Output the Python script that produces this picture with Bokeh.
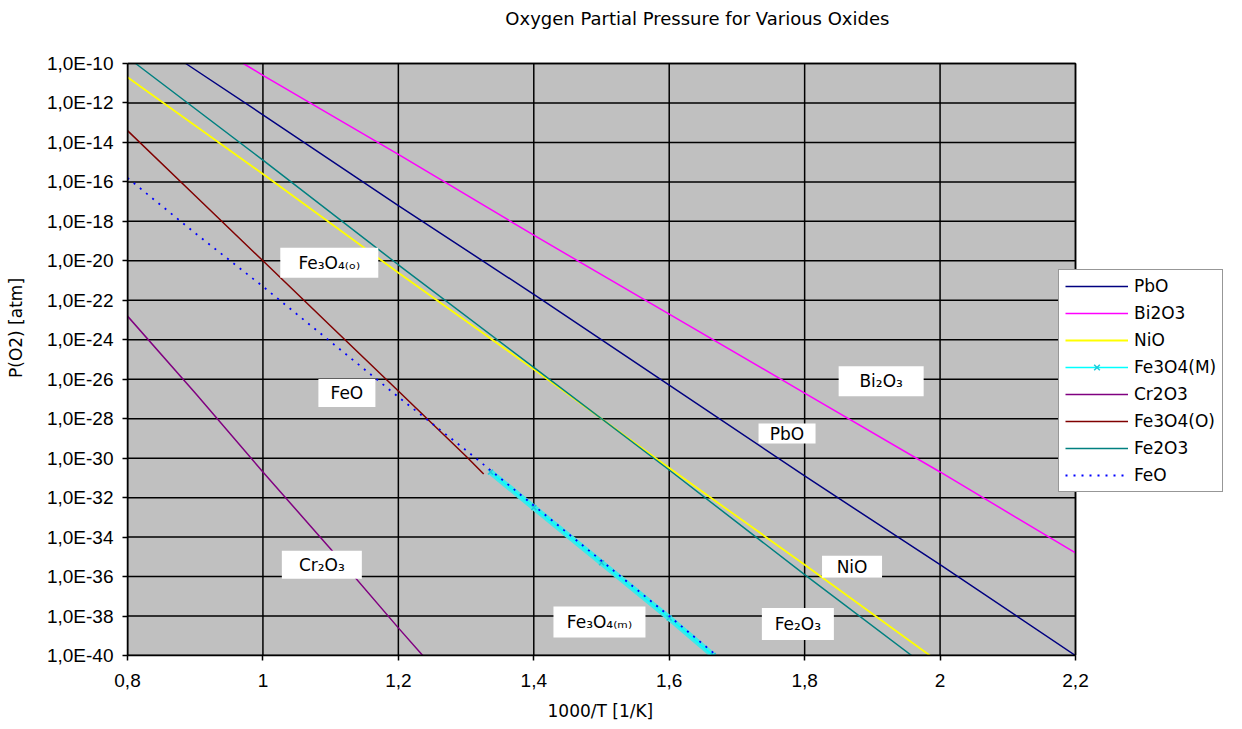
from bokeh.plotting import figure
from bokeh.models import (ColumnDataSource, CustomJSTickFormatter, FixedTicker,
                          Label, Legend, LegendItem, Title)
from bokeh.core.properties import value
from bokeh.embed import file_html
from bokeh.resources import INLINE

# ---------------------------------------------------------------- texts
TITLE = "Oxygen Partial Pressure for Various Oxides"
X_TITLE = "1000/T [1/K]"
Y_TITLE = "P(O2) [atm]"

x_ticks = [0.8, 1.0, 1.2, 1.4, 1.6, 1.8, 2.0, 2.2]
x_tick_labels = ["0,8", "1", "1,2", "1,4", "1,6", "1,8", "2", "2,2"]

# y is plotted as log10(P(O2) / atm)
y_ticks = [-40, -38, -36, -34, -32, -30, -28, -26, -24, -22, -20, -18, -16, -14, -12, -10]
y_tick_labels = ["1,0E-40", "1,0E-38", "1,0E-36", "1,0E-34", "1,0E-32", "1,0E-30",
                 "1,0E-28", "1,0E-26", "1,0E-24", "1,0E-22", "1,0E-20", "1,0E-18",
                 "1,0E-16", "1,0E-14", "1,0E-12", "1,0E-10"]

# ---------------------------------------------------------------- series
# x: 1000/T [1/K], y: log10 P(O2) [atm]
pbo_x = [0.886, 1.0, 1.2, 1.4, 1.6, 1.8, 2.0, 2.2]
pbo_log = [-10.0, -12.6, -17.2, -21.7, -26.3, -30.9, -35.4, -40.0]

bi2o3_x = [0.971, 1.0, 1.2, 1.4, 1.6, 1.8, 2.0, 2.2]
bi2o3_log = [-10.0, -10.6, -14.6, -18.7, -22.7, -26.7, -30.7, -34.8]

nio_x = [0.8, 1.0, 1.2, 1.4, 1.6, 1.8, 1.985]
nio_log = [-10.7, -15.6, -20.6, -25.5, -30.5, -35.4, -40.0]

fe3o4m_x = [1.336, 1.4, 1.5, 1.6, 1.665]
fe3o4m_log = [-30.7, -32.5, -35.3, -38.1, -40.0]

cr2o3_x = [0.8, 0.9, 1.0, 1.1, 1.2, 1.236]
cr2o3_log = [-22.8, -26.7, -30.7, -34.6, -38.6, -40.0]

fe3o4o_x = [0.8, 0.9, 1.0, 1.1, 1.2, 1.3, 1.326]
fe3o4o_log = [-13.4, -16.7, -20.0, -23.3, -26.6, -29.9, -30.8]

fe2o3_x = [0.812, 1.0, 1.2, 1.4, 1.6, 1.8, 1.958]
fe2o3_log = [-10.0, -14.9, -20.2, -25.4, -30.6, -35.9, -40.0]

feo_x = [0.8, 0.9, 1.0, 1.1, 1.2, 1.3, 1.4, 1.5, 1.6, 1.67]
feo_log = [-15.8, -18.6, -21.3, -24.1, -26.9, -29.6, -32.4, -35.2, -38.0, -40.0]

# ---------------------------------------------------------------- in-plot tags
tag_text = ["Fe₃O₄₍ₒ₎", "FeO", "Cr₂O₃", "Fe₃O₄₍ₘ₎", "Fe₂O₃", "NiO", "PbO", "Bi₂O₃"]
tag_x = [1.098, 1.124, 1.087, 1.497, 1.790, 1.870, 1.774, 1.913]
tag_y = [-20.1, -26.7, -35.4, -38.3, -38.4, -35.5, -28.75, -26.1]
tag_w = [98, 57, 80, 92, 72, 60, 57, 85]
tag_h = [30, 28, 28, 31, 32, 22, 20, 30]

# ---------------------------------------------------------------- page geometry
W, H = 1242, 729
LEFT, BOTTOM = 127, 74            # room for the axes
PLOT_W, PLOT_H = 948, 592         # size of the grey plotting area in px
x0, x1 = x_ticks[0], x_ticks[-1]
y0, y1 = y_ticks[0], y_ticks[-1]
# the frame runs to the canvas top/right edge so that the title and the
# legend (which sits partly over the plotting area) can live inside it
x_end = x0 + (x1 - x0) * (W - LEFT) / PLOT_W
y_top = y0 + (y1 - y0) * (H - BOTTOM) / PLOT_H

p = figure(width=W, height=H, x_range=(x0, x_end), y_range=(y0, y_top),
           output_backend="svg", toolbar_location=None,
           min_border_left=LEFT, min_border_right=0,
           min_border_top=0, min_border_bottom=BOTTOM)

p.background_fill_color = "white"
p.border_fill_color = "white"
p.outline_line_color = None
p.xgrid.visible = False
p.ygrid.visible = False

# grey plotting area
p.quad(left=[x0], right=[x1], bottom=[y0], top=[y1], fill_color="#C0C0C0",
       line_color=None)

# black grid, limited to the plotting area
p.segment(x0=x_ticks, y0=[y0] * len(x_ticks), x1=x_ticks, y1=[y1] * len(x_ticks),
          line_color="black", line_width=1.5)
p.segment(x0=[x0] * len(y_ticks), y0=y_ticks, x1=[x1] * len(y_ticks), y1=y_ticks,
          line_color="black", line_width=1.5)

tick_font = "Liberation Sans"

p.xaxis.ticker = FixedTicker(ticks=x_ticks)
p.yaxis.ticker = FixedTicker(ticks=y_ticks)
p.xaxis.bounds = (x0, x1)
p.yaxis.bounds = (y0, y1)
lookup = """
let best = 0;
for (let i = 0; i < tick_values.length; i++) {
  if (Math.abs(tick_values[i] - tick) < Math.abs(tick_values[best] - tick)) best = i;
}
return tick_labels[best];
"""
p.xaxis.formatter = CustomJSTickFormatter(
    args=dict(tick_values=x_ticks, tick_labels=x_tick_labels), code=lookup)
p.yaxis.formatter = CustomJSTickFormatter(
    args=dict(tick_values=y_ticks, tick_labels=y_tick_labels), code=lookup)

for ax in (p.xaxis, p.yaxis):
    ax.axis_line_color = "black"
    ax.axis_line_width = 1.5
    ax.major_tick_line_color = "black"
    ax.major_tick_line_width = 1.5
    ax.major_tick_out = 5
    ax.major_tick_in = 0
    ax.minor_tick_line_color = None
    ax.major_label_text_font = tick_font
    ax.major_label_text_font_size = "19px"
    ax.major_label_text_color = "black"
    ax.axis_label_text_font = "DejaVu Sans"
    ax.axis_label_text_font_size = "17px"
    ax.axis_label_text_font_style = "normal"
    ax.axis_label_text_color = "black"

p.yaxis.axis_label = Y_TITLE
p.xaxis.major_label_standoff = 13
p.yaxis.major_label_standoff = 9
p.yaxis.axis_label_standoff = 18

# x-axis title, set under the axis and centred on the plotting area
p.add_layout(Title(text=X_TITLE, align="left", offset=420, standoff=18,
                   text_font="DejaVu Sans", text_font_size="17px",
                   text_font_style="normal", text_color="black"), "below")

# ---------------------------------------------------------------- lines
r_pbo = p.line(pbo_x, pbo_log, line_color="#000080", line_width=1.5)
r_bi = p.line(bi2o3_x, bi2o3_log, line_color="#FF00FF", line_width=1.5)
r_nio = p.line(nio_x, nio_log, line_color="#FFFF00", line_width=1.8)
p.line(fe3o4m_x, fe3o4m_log, line_color="#40E8E8", line_width=6)
r_m_line = p.line(fe3o4m_x, fe3o4m_log, line_color="#00FFFF", line_width=1.5)
r_m_mark = p.scatter(fe3o4m_x, fe3o4m_log, marker="x", size=7,
                     line_color="#20C8D8", line_width=1.5)
r_cr = p.line(cr2o3_x, cr2o3_log, line_color="#800080", line_width=1.5)
r_o = p.line(fe3o4o_x, fe3o4o_log, line_color="#800000", line_width=1.5)
r_fe2 = p.line(fe2o3_x, fe2o3_log, line_color="#008080", line_width=1.5)
r_feo = p.line(feo_x, feo_log, line_color="#0000FF", line_width=1.8, line_dash="2 6")

# border of the plotting area
p.quad(left=[x0], right=[x1], bottom=[y0], top=[y1], fill_color=None,
       line_color="black", line_width=1.5)

# ---------------------------------------------------------------- tags
tags = ColumnDataSource(dict(x=tag_x, y=tag_y, w=tag_w, h=tag_h, text=tag_text))
p.rect(x="x", y="y", width="w", height="h", width_units="screen", height_units="screen",
       fill_color="white", line_color=None, source=tags)
p.text(x="x", y="y", text="text", source=tags, text_align="center",
       text_baseline="middle", text_font=value("DejaVu Sans"),
       text_font_size="17px", text_color="black")

# ---------------------------------------------------------------- title
p.add_layout(Label(x=1.358, y=-7.72, text=TITLE, text_align="left",
                   text_baseline="middle", text_font="DejaVu Sans",
                   text_font_size="18px", text_color="black"))

# ---------------------------------------------------------------- legend
legend = Legend(items=[
    LegendItem(label="PbO", renderers=[r_pbo]),
    LegendItem(label="Bi2O3", renderers=[r_bi]),
    LegendItem(label="NiO", renderers=[r_nio]),
    LegendItem(label="Fe3O4(M)", renderers=[r_m_line, r_m_mark]),
    LegendItem(label="Cr2O3", renderers=[r_cr]),
    LegendItem(label="Fe3O4(O)", renderers=[r_o]),
    LegendItem(label="Fe2O3", renderers=[r_fe2]),
    LegendItem(label="FeO", renderers=[r_feo]),
], location=(931, 163))
legend.margin = 0
legend.padding = 6
legend.spacing = 7
legend.glyph_width = 63
legend.glyph_height = 20
legend.label_height = 20
legend.label_standoff = 6
legend.label_text_font = "DejaVu Sans"
legend.label_text_font_size = "17px"
legend.label_text_color = "black"
legend.border_line_color = "#303030"
legend.border_line_width = 1.5
legend.background_fill_color = "white"
legend.background_fill_alpha = 1.0
p.add_layout(legend, "center")

open("out.html", "w").write(file_html(p, INLINE))
